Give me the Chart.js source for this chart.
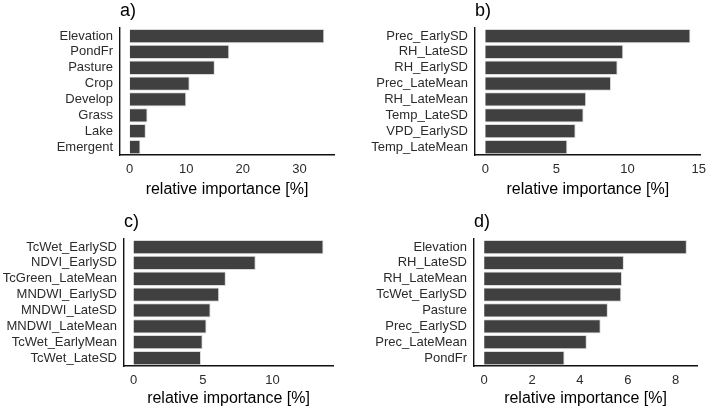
<!DOCTYPE html>
<html>
<head>
<meta charset="utf-8">
<script src="https://cdn.jsdelivr.net/npm/chart.js@4/dist/chart.umd.min.js"></script>
<style>
  body { margin: 0; background: #fff; }
  #wrap { position: relative; width: 709px; height: 409px; }
  .panel { position: absolute; }
</style>
</head>
<body>
<div id="wrap">
  <div class="panel" style="left:0;top:0;width:354px;height:200px"><canvas id="chartA"></canvas></div>
  <div class="panel" style="left:354px;top:0;width:355px;height:200px"><canvas id="chartB"></canvas></div>
  <div class="panel" style="left:0;top:211px;width:354px;height:198px"><canvas id="chartC"></canvas></div>
  <div class="panel" style="left:354px;top:211px;width:355px;height:198px"><canvas id="chartD"></canvas></div>
</div>
<script>
// panel a)
const labelsA = ['Elevation', 'PondFr', 'Pasture', 'Crop', 'Develop', 'Grass', 'Lake', 'Emergent']
const valuesA = [34.4, 17.6, 15.05, 10.6, 10.0, 3.15, 2.85, 1.9]
const ticksA = [0, 10, 20, 30]

// panel b)
const labelsB = ['Prec_EarlySD', 'RH_LateSD', 'RH_EarlySD', 'Prec_LateMean', 'RH_LateMean', 'Temp_LateSD', 'VPD_EarlySD', 'Temp_LateMean']
const valuesB = [14.42, 9.7, 9.3, 8.84, 7.09, 6.91, 6.35, 5.77]
const ticksB = [0, 5, 10, 15]

// panel c)
const labelsC = ['TcWet_EarlySD', 'NDVI_EarlySD', 'TcGreen_LateMean', 'MNDWI_EarlySD', 'MNDWI_LateSD', 'MNDWI_LateMean', 'TcWet_EarlyMean', 'TcWet_LateSD']
const valuesC = [13.68, 8.8, 6.65, 6.17, 5.55, 5.26, 4.98, 4.86]
const ticksC = [0, 5, 10]

// panel d)
const labelsD = ['Elevation', 'RH_LateSD', 'RH_LateMean', 'TcWet_EarlySD', 'Pasture', 'Prec_EarlySD', 'Prec_LateMean', 'PondFr']
const valuesD = [8.47, 5.84, 5.76, 5.73, 5.17, 4.87, 4.29, 3.36]
const ticksD = [0, 2, 4, 6, 8]

const axisTitle = 'relative importance [%]'
const FONT = "'Liberation Sans', Arial, sans-serif"

function makePanel(id, title, labels, values, ticks, yWidth, padRight, xHeight) {
    const top = Math.max(...values)
    new Chart(document.getElementById(id), {
        type: 'bar',
        data: {
            labels: labels,
            datasets: [{
                data: values,
                backgroundColor: '#404040',
                borderColor: '#d9d9d9',
                borderWidth: 1,
                categoryPercentage: 1,
                barPercentage: 0.9
            }]
        },
        options: {
            indexAxis: 'y',
            responsive: true,
            maintainAspectRatio: false,
            animation: false,
            layout: { padding: { left: 0, right: padRight, top: 0, bottom: 0 } },
            plugins: {
                legend: { display: false },
                tooltip: { enabled: false },
                title: {
                    display: true,
                    text: title,
                    align: 'start',
                    fullSize: false,
                    color: '#000',
                    font: { family: FONT, size: 18, weight: 'normal' },
                    padding: { top: 0, bottom: 6.5 }
                }
            },
            scales: {
                x: {
                    min: -0.05 * top,
                    max: 1.05 * top,
                    afterBuildTicks: (scale) => { scale.ticks = ticks.map(v => ({ value: v })) },
                    afterFit: (scale) => { scale.height = xHeight },
                    grid: { display: false, drawTicks: true, tickLength: 4, tickColor: '#333' },
                    border: { display: true, color: '#111', width: 1.4 },
                    ticks: { color: '#2b2b2b', font: { family: FONT, size: 13 }, padding: 3, maxRotation: 0 },
                    title: {
                        display: true,
                        text: axisTitle,
                        color: '#000',
                        font: { family: FONT, size: 16 },
                        padding: { top: 0, bottom: 1 }
                    }
                },
                y: {
                    afterFit: (scale) => { scale.width = yWidth },
                    grid: { display: false, drawTicks: true, tickLength: 4, tickColor: '#333' },
                    border: { display: true, color: '#111', width: 1.4 },
                    ticks: { color: '#2b2b2b', font: { family: FONT, size: 13 }, padding: 3, autoSkip: false }
                }
            }
        }
    })
}

makePanel('chartA', 'a)', labelsA, valuesA, ticksA, 120, 20, 45)
makePanel('chartB', 'b)', labelsB, valuesB, ticksB, 121, 7, 45)
makePanel('chartC', 'c)', labelsC, valuesC, ticksC, 124, 21, 43)
makePanel('chartD', 'd)', labelsD, valuesD, ticksD, 120, 12, 43)
</script>
</body>
</html>
